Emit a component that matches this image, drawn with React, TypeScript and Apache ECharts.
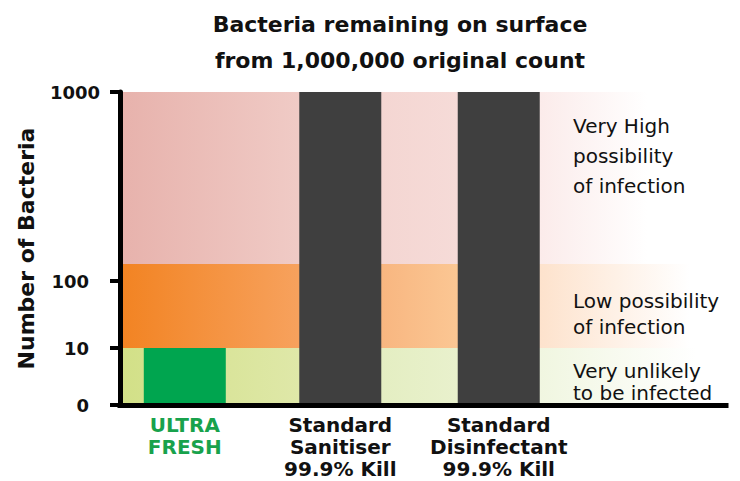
import React, { useEffect, useRef } from 'react';
import * as echarts from 'echarts';

const FONT = '"DejaVu Sans", "Noto Sans", sans-serif';

const titleLines = ['Bacteria remaining on surface', 'from 1,000,000 original count'];
const yAxisName = 'Number of Bacteria';
const yTickValues = [0, 10, 100, 1000];
// axis-scale anchors (the chart's own non-uniform scale: linear 0-10, log above)
const yTickPositions = [0, 57, 124, 313];
const categories = [
  ['ULTRA', 'FRESH'],
  ['Standard', 'Sanitiser', '99.9% Kill'],
  ['Standard', 'Disinfectant', '99.9% Kill'],
];
const categorySlots = [65, 221, 380];
const categoryLabelColors = ['#18a24c', '#111111', '#111111'];
const bacteriaRemaining = [10, 1000, 1000];
const barColors = ['#00a54f', '#3f3f3f', '#3f3f3f'];
const zoneFrom = [0, 10, 123];
const zoneTo = [10, 123, 1000];
const zoneLabels = [
  'Very unlikely\nto be infected',
  'Low possibility\nof infection',
  'Very High\npossibility\nof infection',
];
const zoneLabelLineHeights = [22, 26, 30];
const zoneLabelOffsets = [12, 24, 19];
const zoneColorStops: [number, string][][] = [
  [[0, '#d2e087'], [0.3, '#dfe8a9'], [0.43, '#e4eec2'], [0.56, '#e9f1cd'], [0.69, '#f0f6e0'], [0.95, '#ffffff'], [1, '#ffffff']],
  [[0, '#f28322'], [0.3, '#f7a25e'], [0.43, '#f8b680'], [0.56, '#fbc794'], [0.69, '#fde2cc'], [0.94, '#ffffff'], [1, '#ffffff']],
  [[0, '#e7b2ac'], [0.3, '#f0cbc6'], [0.43, '#f4d6d2'], [0.56, '#f6dbd8'], [0.69, '#fbebea'], [0.87, '#ffffff'], [1, '#ffffff']],
];

const X_MAX = 608;

function toAxis(v: number): number {
  if (v <= yTickValues[1]) return (v / yTickValues[1]) * yTickPositions[1];
  for (let i = 1; i < yTickValues.length - 1; i++) {
    const a = yTickValues[i];
    const b = yTickValues[i + 1];
    if (v <= b) {
      const t = (Math.log10(v) - Math.log10(a)) / (Math.log10(b) - Math.log10(a));
      return yTickPositions[i] + t * (yTickPositions[i + 1] - yTickPositions[i]);
    }
  }
  return yTickPositions[yTickPositions.length - 1];
}

export default function App() {
  const ref = useRef<HTMLDivElement>(null);
  useEffect(() => {
    if (!ref.current) return;
    const chart = echarts.init(ref.current, null, { renderer: 'svg' });
    const markData = zoneLabels.map((lab, i) => [
      {
        xAxis: 0,
        yAxis: toAxis(zoneFrom[i]),
        itemStyle: {
          color: new echarts.graphic.LinearGradient(
            0, 0, 1, 0,
            zoneColorStops[i].map(([offset, color]) => ({ offset, color }))
          ),
        },
        label: {
          show: true,
          formatter: lab,
          position: [453, zoneLabelOffsets[i]],
          align: 'left',
          verticalAlign: 'top',
          fontFamily: FONT,
          fontSize: 20,
          lineHeight: zoneLabelLineHeights[i],
          color: '#111111',
        },
      },
      { xAxis: X_MAX, yAxis: toAxis(zoneTo[i]) },
    ]);

    const option: any = {
      animation: false,
      backgroundColor: '#ffffff',
      title: {
        text: titleLines.join('\n'),
        left: 395,
        top: 1,
        textAlign: 'center',
        textStyle: {
          fontFamily: FONT,
          fontWeight: 'bold',
          fontSize: 22,
          lineHeight: 36,
          color: '#111111',
        },
      },
      grid: { left: 120, right: 14, top: 92, bottom: 76 },
      xAxis: {
        type: 'value',
        min: 0,
        max: X_MAX,
        z: 10,
        splitLine: { show: false },
        axisTick: { show: false },
        axisLine: { show: true, lineStyle: { color: '#000000', width: 5, cap: 'square' } },
        axisLabel: {
          customValues: categorySlots,
          margin: 9,
          formatter: (v: number) => {
            const i = categorySlots.indexOf(v);
            if (i < 0) return '';
            const tag = i === 0 ? 'g' : 'k';
            return categories[i].map((s) => `{${tag}|${s}}`).join('\n');
          },
          rich: {
            g: { fontFamily: FONT, fontWeight: 'bold', fontSize: 20, lineHeight: 22, color: categoryLabelColors[0] },
            k: { fontFamily: FONT, fontWeight: 'bold', fontSize: 20, lineHeight: 22, color: categoryLabelColors[1] },
          },
        },
      },
      yAxis: {
        type: 'value',
        min: 0,
        max: yTickPositions[yTickPositions.length - 1],
        z: 10,
        name: yAxisName,
        nameLocation: 'middle',
        nameRotate: 90,
        nameGap: 83,
        nameTextStyle: { fontFamily: FONT, fontWeight: 'bold', fontSize: 22, color: '#111111' },
        splitLine: { show: false },
        axisLine: { show: true, lineStyle: { color: '#000000', width: 5 } },
        axisTick: {
          show: true,
          customValues: yTickPositions,
          length: 10,
          lineStyle: { color: '#000000', width: 4 },
        },
        axisLabel: {
          customValues: yTickPositions,
          margin: 20,
          formatter: (v: number) => {
            const i = yTickPositions.indexOf(v);
            if (i < 0) return '';
            const tag = i === yTickPositions.length - 1 ? 'w' : 'n';
            return `{${tag}|${yTickValues[i]}}`;
          },
          rich: {
            w: { fontFamily: FONT, fontWeight: 'bold', fontSize: 18, color: '#111111' },
            n: { fontFamily: FONT, fontWeight: 'bold', fontSize: 18, color: '#111111', padding: [0, 11, 0, 0] },
          },
        },
      },
      series: [
        {
          type: 'bar',
          barWidth: 82,
          z: 3,
          data: categorySlots.map((x, i) => ({
            value: [x, toAxis(bacteriaRemaining[i])],
            itemStyle: { color: barColors[i] },
          })),
          markArea: {
            silent: true,
            z: 1,
            data: markData,
          },
        },
      ],
    };
    chart.setOption(option);
    return () => chart.dispose();
  }, []);
  return <div ref={ref} style={{ width: 740, height: 481, position: 'absolute', left: 0, top: 0 }} />;
}
